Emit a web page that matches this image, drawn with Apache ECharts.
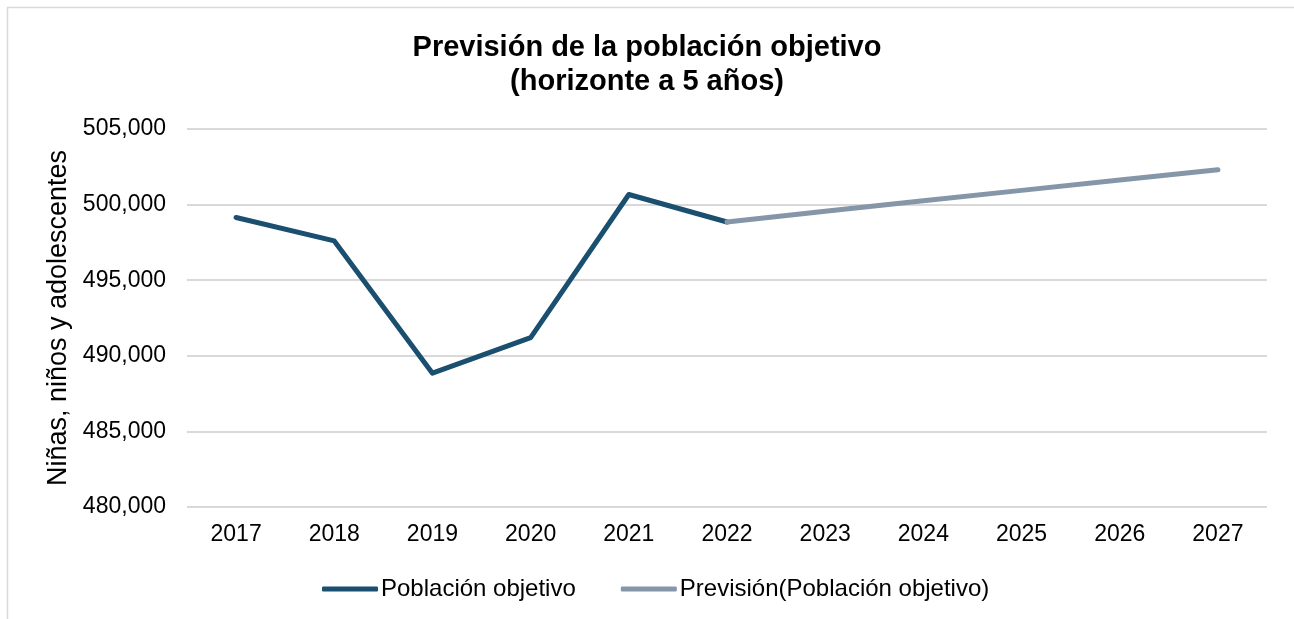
<!DOCTYPE html>
<html>
<head>
<meta charset="utf-8">
<script src="https://cdn.jsdelivr.net/npm/echarts@6/dist/echarts.min.js"></script>
<style>
  html, body { margin: 0; padding: 0; background: #fff; overflow: hidden; }
  #chart { width: 1294px; height: 619px; }
</style>
</head>
<body>
<div id="chart"></div>
<script>
// datos
var years = ['2017', '2018', '2019', '2020', '2021', '2022', '2023', '2024', '2025', '2026', '2027']
var poblacion = [499150, 497600, 488850, 491200, 500670, 498850, null, null, null, null, null]
var prevision = [null, null, null, null, null, 498850, 499560, 500250, 500940, 501620, 502300]

var font = 'Liberation Sans, Arial, sans-serif'

var chart = echarts.init(document.getElementById('chart'))
var option = {
  animation: false,
  textStyle: { fontFamily: font },
  title: {
    text: 'Previsión de la población objetivo\n(horizonte a 5 años)',
    left: 'center',
    top: 26,
    textStyle: {
      fontFamily: font,
      fontSize: 29,
      fontWeight: 'bold',
      color: '#000',
      lineHeight: 34
    }
  },
  // marco del grafico (solo borde superior e izquierdo visibles)
  graphic: [
    {
      type: 'polyline',
      shape: { points: [[7.5, 619], [7.5, 7.5], [1294, 7.5]] },
      style: { fill: 'none', stroke: '#d9d9d9', lineWidth: 1.5 },
      silent: true
    }
  ],
  legend: {
    top: 572,
    left: 317,
    icon: 'roundRect',
    itemWidth: 56,
    itemHeight: 5,
    itemGap: 45,
    textStyle: { fontFamily: font, fontSize: 24, color: '#000', padding: [0, 0, 0, -2] },
    data: ['Población objetivo', 'Previsión(Población objetivo)']
  },
  grid: {
    left: 187,
    right: 27,
    top: 129,
    bottom: 112
  },
  xAxis: {
    type: 'category',
    data: years,
    boundaryGap: true,
    axisLine: { show: false },
    axisTick: { show: false },
    axisLabel: { fontFamily: font, fontSize: 23, color: '#000', margin: 16 }
  },
  yAxis: {
    type: 'value',
    min: 480000,
    max: 505000,
    interval: 5000,
    name: 'Niñas, niños y adolescentes',
    nameLocation: 'middle',
    nameGap: 115,
    nameTextStyle: { fontFamily: font, fontSize: 27, color: '#000' },
    axisLine: { show: false },
    axisTick: { show: false },
    axisLabel: {
      fontFamily: font,
      fontSize: 23,
      color: '#000',
      margin: 21,
      formatter: function (v) { return v.toLocaleString('en-US') }
    },
    splitLine: { lineStyle: { color: '#d9d9d9', width: 2 } }
  },
  series: [
    {
      name: 'Población objetivo',
      type: 'line',
      data: poblacion,
      showSymbol: false,
      symbol: 'none',
      itemStyle: { color: '#1b4f6f' },
      lineStyle: { color: '#1b4f6f', width: 5, cap: 'round', join: 'round' }
    },
    {
      name: 'Previsión(Población objetivo)',
      type: 'line',
      data: prevision,
      showSymbol: false,
      symbol: 'none',
      itemStyle: { color: '#8596a8' },
      lineStyle: { color: '#8596a8', width: 5, cap: 'round', join: 'round' }
    }
  ]
}
chart.setOption(option)
window.addEventListener('resize', function () {
  chart.resize()
})
</script>
</body>
</html>
